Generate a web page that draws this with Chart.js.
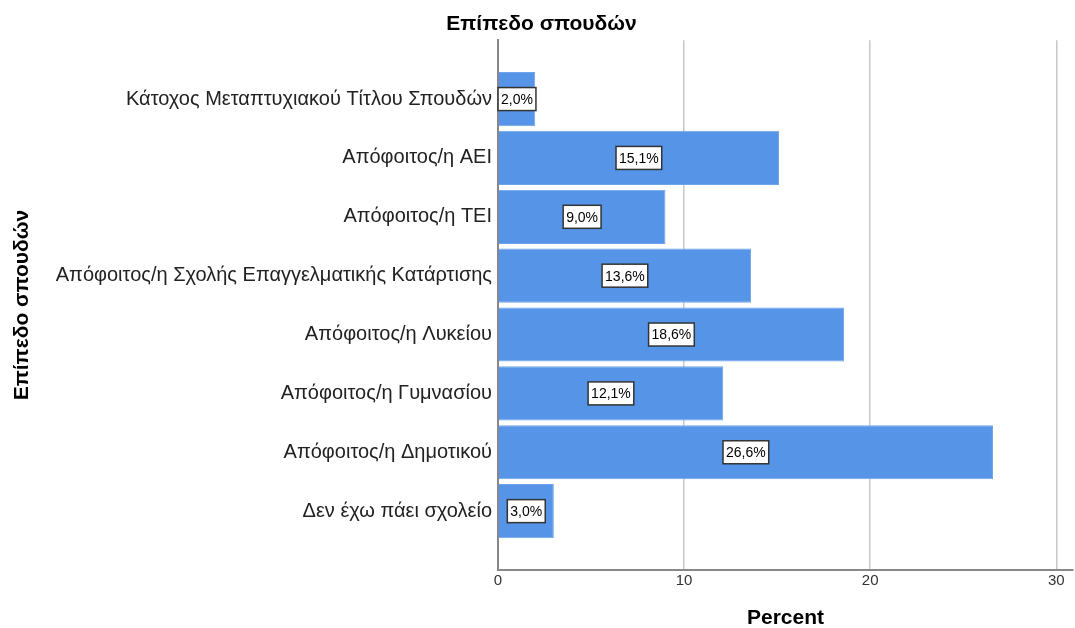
<!DOCTYPE html>
<html>
<head>
<meta charset="utf-8">
<script src="https://cdn.jsdelivr.net/npm/chart.js@4.4.1/dist/chart.umd.min.js"></script>
<style>
  html, body { margin: 0; padding: 0; background: #fff; }
  #wrap { width: 1075px; height: 628px; }
</style>
</head>
<body>
<div id="wrap"><canvas id="chart" width="1075" height="628"></canvas></div>
<script>
// Data
const categories = [
    'Κάτοχος Μεταπτυχιακού Τίτλου Σπουδών',
    'Απόφοιτος/η ΑΕΙ',
    'Απόφοιτος/η ΤΕΙ',
    'Απόφοιτος/η Σχολής Επαγγελματικής Κατάρτισης',
    'Απόφοιτος/η Λυκείου',
    'Απόφοιτος/η Γυμνασίου',
    'Απόφοιτος/η Δημοτικού',
    'Δεν έχω πάει σχολείο'
];
const percents = [2.0, 15.1, 9.0, 13.6, 18.6, 12.1, 26.6, 3.0];
const xTicks = [0, 10, 20, 30];

const FONT = "'Liberation Sans', Arial, sans-serif";

// Boxed value labels in the middle of each bar
const valueLabels = {
    id: 'valueLabels',
    afterDatasetsDraw(chart) {
        const ctx = chart.ctx;
        const meta = chart.getDatasetMeta(0);
        ctx.save();
        ctx.font = '14px ' + FONT;
        ctx.textAlign = 'center';
        ctx.textBaseline = 'middle';
        meta.data.forEach(function(bar, i) {
            const text = percents[i].toFixed(1).replace('.', ',') + '%';
            const cx = (bar.x + bar.base) / 2;
            const cy = bar.y;
            const w = ctx.measureText(text).width + 6;
            const h = 23;
            ctx.fillStyle = '#ffffff';
            ctx.fillRect(cx - w / 2, cy - h / 2, w, h);
            ctx.strokeStyle = '#333333';
            ctx.lineWidth = 1.5;
            ctx.strokeRect(cx - w / 2, cy - h / 2, w, h);
            ctx.fillStyle = '#000000';
            ctx.fillText(text, cx, cy + 1);
        });
        ctx.restore();
    }
};

const ctx = document.getElementById('chart').getContext('2d');
new Chart(ctx, {
    type: 'bar',
    data: {
        datasets: [{
            data: percents.map((v, i) => ({ x: v, y: i + 1 })),
            backgroundColor: '#5594e6',
            borderColor: '#6ea4ea',
            borderWidth: 1,
            categoryPercentage: 1,
            barPercentage: 0.92
        }]
    },
    options: {
        indexAxis: 'y',
        responsive: false,
        animation: false,
        layout: { padding: { left: 10, right: 2, top: 0, bottom: 0 } },
        plugins: {
            legend: { display: false },
            tooltip: { enabled: false },
            title: {
                display: true,
                text: 'Επίπεδο σπουδών',
                color: '#000',
                font: { family: FONT, size: 21, weight: 'bold' },
                padding: { top: 12, bottom: 3 }
            }
        },
        scales: {
            x: {
                type: 'linear',
                min: 0,
                max: 30.9,
                afterBuildTicks(scale) {
                    scale.ticks = xTicks.map(v => ({ value: v }));
                },
                afterFit(scale) { scale.height = 58; },
                grid: {
                    color: ctx => ctx.tick && ctx.tick.value === 0 ? 'rgba(0,0,0,0)' : '#c8c8c8',
                    lineWidth: 1.5,
                    drawTicks: false
                },
                border: { display: true, color: '#888', width: 2 },
                ticks: { color: '#333', font: { family: FONT, size: 15 }, padding: 2 },
                title: {
                    display: true,
                    text: 'Percent',
                    color: '#000',
                    font: { family: FONT, size: 21, weight: 'bold' },
                    padding: { top: 0, bottom: -3 }
                }
            },
            y: {
                type: 'linear',
                min: 0,
                max: 9,
                offset: false,
                reverse: true,
                afterBuildTicks(scale) {
                    scale.ticks = categories.map((c, i) => ({ value: i + 1 }));
                },
                afterFit(scale) { scale.width = 488; },
                grid: { display: false, drawTicks: false },
                border: { display: true, color: '#888', width: 2 },
                ticks: {
                    color: '#222',
                    font: { family: FONT, size: 20 },
                    padding: 6,
                    callback: v => categories[v - 1] || ''
                },
                title: {
                    display: true,
                    text: 'Επίπεδο σπουδών',
                    color: '#000',
                    font: { family: FONT, size: 21, weight: 'bold' },
                    padding: { top: 0, bottom: 0 }
                }
            }
        }
    },
    plugins: [valueLabels]
});
</script>
</body>
</html>
